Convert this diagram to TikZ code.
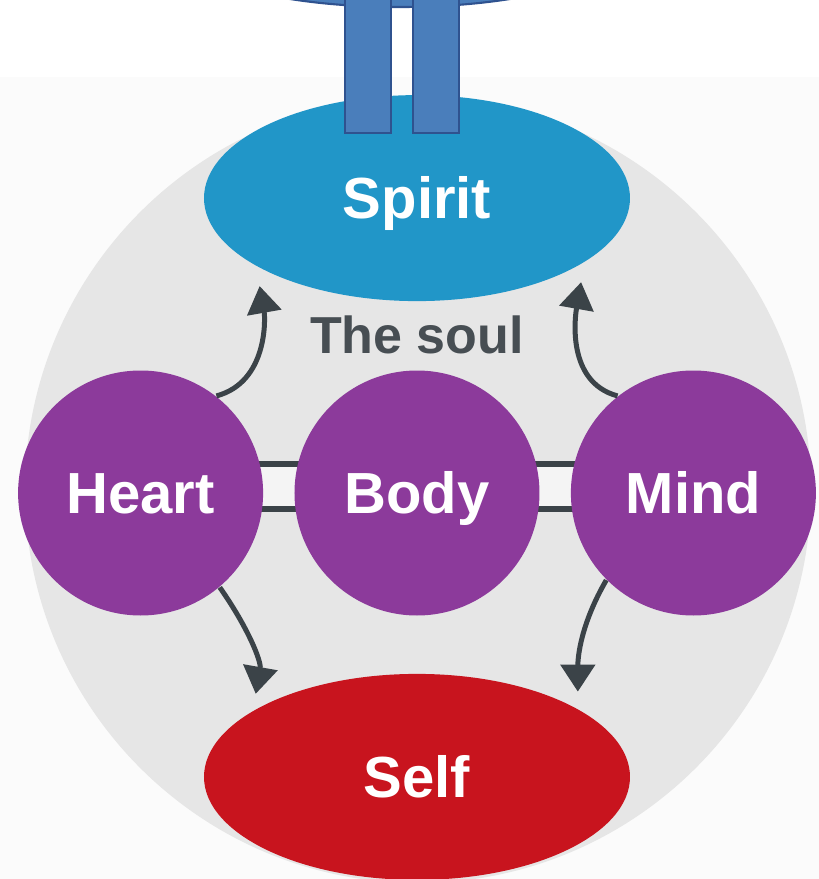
\documentclass[tikz,border=0pt]{standalone}
\usepackage{fontspec}
\setmainfont{Liberation Sans}
\usetikzlibrary{arrows.meta, positioning, shapes.geometric, backgrounds}
\definecolor{spiritblue}{HTML}{2196C8}
\definecolor{selfred}{HTML}{C8141E}
\definecolor{partpurple}{HTML}{8C3A9B}
\definecolor{soulgrey}{HTML}{E6E6E6}
\definecolor{flowdark}{HTML}{3B4348}
\definecolor{soultext}{HTML}{474E53}
\definecolor{paperoff}{HTML}{FBFBFB}
\definecolor{overlayblue}{HTML}{4A7EBB}
\definecolor{overlaystroke}{HTML}{2F528F}

\begin{document}
\begin{tikzpicture}[>=Stealth,
  part/.style={circle, fill=partpurple, text=white, minimum size=2.45cm, inner sep=0pt,
    font=\fontsize{16.5}{18}\selectfont\bfseries, text height=11.8pt, text depth=0pt},
  pole/.style={ellipse, minimum width=4.26cm, minimum height=2.06cm, inner sep=0pt, text=white,
    font=\fontsize{16.5}{18}\selectfont\bfseries, text height=11.8pt, text depth=0pt},
  flow/.style={flowdark, line width=0.05cm, -{Triangle[width=0.34cm, length=0.27cm]}},
  bond/.style={draw=flowdark, line width=0.06cm, double=white!55!soulgrey, double distance=0.39cm}]
  \useasboundingbox (0, 0) rectangle (8.19, 8.79);

  % the three parts
  \node[part] (body) at (4.17, 3.86) {Body};
  \node[part, left=0.3cm of body] (heart) {Heart};
  \node[part, right=0.3cm of body] (mind) {Mind};

  % spirit and self
  \node[pole, fill=spiritblue, above=0.68cm of body] (spirit) {Spirit};
  \node[pole, fill=selfred, below=0.57cm of body] (self) {Self};
  \node[above=0.155cm of body, inner sep=0pt, text=soultext, text height=10.6pt, text depth=0pt,
    font=\fontsize{14.8}{16}\selectfont\bfseries] (soul) {The soul};

  % backdrop and links
  \begin{pgfonlayer}{background}
    \fill[paperoff] (0, 0) rectangle (8.19, 8.02);
    \fill[soulgrey] (4.18, 3.89) circle (3.93);
    \draw[bond] ([yshift=0.065cm]heart.center) -- ([yshift=0.065cm]body.center);
    \draw[bond] ([yshift=0.065cm]body.center) -- ([yshift=0.065cm]mind.center);
  \end{pgfonlayer}

  % flows
  \draw[flow, shorten >=0.2cm] (heart.52) to[out=15, in=-80] (spirit.203);
  \draw[flow, shorten >=0.2cm] (mind.128) to[out=165, in=-100] (spirit.-21);
  \draw[flow, shorten >=0.17cm] (heart.-50) to[out=-55, in=80] (self.158);
  \draw[flow, shorten >=0.17cm] (mind.225) to[out=240, in=90] (self.23);

  % overlay at the top
  \filldraw[fill=overlayblue, draw=overlaystroke, line width=0.6pt] (4.00, 9.32) ellipse (2.2 and 0.6);
  \filldraw[fill=overlayblue, draw=overlaystroke, line width=0.6pt] (3.45, 9.0) rectangle (3.91, 7.46);
  \filldraw[fill=overlayblue, draw=overlaystroke, line width=0.6pt] (4.13, 9.0) rectangle (4.59, 7.46);
\end{tikzpicture}
\end{document}
